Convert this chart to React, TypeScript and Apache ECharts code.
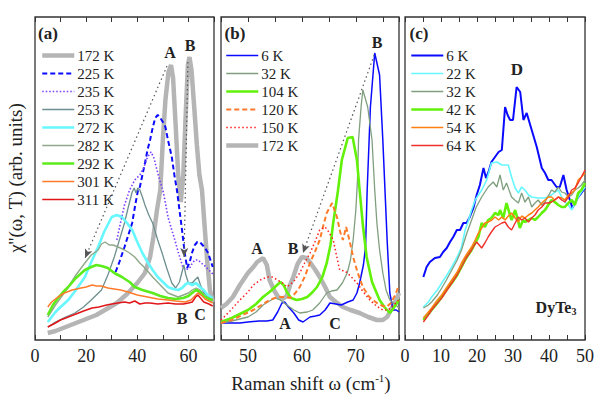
import React, { useEffect, useRef } from 'react';
import * as echarts from 'echarts';

// ---------- Panel (a) ----------
const a172 = [[5,7],[8,9],[12,13],[16,17],[20,21],[24,25],[28,31],[32,37],[36,46],[40,57],[43,67],[45,83],[46.3,103],[47.7,130],[49,150],[50,200],[51,240],[52.2,268],[53.2,275],[54,262],[55,215],[56,165],[57,138],[58,165],[59,230],[59.8,275],[60.4,283],[61.2,270],[62.2,235],[63.3,195],[64.3,165],[65.3,150],[66.3,115],[67.3,80],[68.4,50],[69.5,38]];
const a225 = [[31.5,68],[33,78],[35,93],[36.5,105],[38,117],[39.2,135],[40.3,150],[41,153],[42,165],[43,177],[44,190],[45,200],[46,212],[47,222],[48,225],[49,222],[50,218],[51,213],[52,200],[53.5,183],[54.5,165],[55.5,150],[56.5,130],[57.5,110],[58.5,88],[59.5,72],[60.5,78],[61.5,88],[62.5,95],[63.5,98],[64.5,98],[65.5,95],[66.5,92],[67.7,87],[69.5,73]];
const a235 = [[32,100],[33.5,118],[35,135],[37,150],[39,160],[41,165],[42.5,172],[44,183],[45.4,188],[46.5,182],[48,167],[49,158],[50,150],[51,137],[52,123],[53.5,110],[54.7,100],[56,88],[57.8,73],[59,70],[60.5,72],[61.5,77],[62.6,80],[63.8,80],[65,77],[66.5,74],[68,70],[69.5,66]];
const a253 = [[5,13],[8,18],[12,23],[15.6,27],[19,33],[22,40],[26,50],[28.5,65],[31,83],[33,100],[35,117],[36.5,133],[38,148],[38.8,152],[39.5,147],[40.2,152],[41,150],[42,143],[43,135],[44.5,125],[46,117],[48,100],[49.7,87],[51.5,72],[53.5,57],[55,52],[56.5,58],[57.5,68],[58.2,75],[59,65],[60,57],[61.5,57],[62.5,60],[63.7,63],[64.7,55],[66,47],[68,43],[69.5,40]];
const a272 = [[5,18],[8,28],[10,33],[13,40],[16,50],[19.5,63],[22,78],[24.7,93],[27,108],[29,118],[30,123],[32,125],[34,123],[36,117],[38,110],[40,98],[42,87],[44,78],[46,70],[48,63],[50,58],[52,53],[54,51],[56,50],[57.5,52],[59,56],[60,57],[61.5,55],[63,57],[64.5,53],[66,50],[67.5,45],[69.5,42]];
const a282 = [[5,23],[8,35],[10,42],[13,53],[16,65],[19.5,77],[22,85],[24.7,90],[26,96],[27.4,98],[29,95],[30.5,95],[32.5,93],[35,90],[37,87],[39,83],[41,77],[43,72],[46,63],[49,55],[52,47],[54,45],[56,43],[58,45],[60,47],[61.5,50],[63,52],[64.5,50],[66,45],[68,42],[69.5,40]];
const a292 = [[5,25],[7,35],[9,42],[11,48],[13,53],[16,62],[19.5,70],[22,73],[24,75],[26,74],[28.5,72],[31,67],[34,63],[37,58],[39,53],[42,50],[46,47],[49,44],[52,42],[55,41],[58,42],[60,44],[61.4,47],[63,50],[64.5,48],[66,44],[68,41],[69.5,40]];
const a301 = [[5,33],[6.5,38],[9,43],[11.5,47],[14.5,50],[18,52],[20,53],[22.3,55],[24,54],[26,54],[28.5,52],[31,51],[33.5,50],[36.4,48],[40,45],[44,43],[48,41],[52,40],[55,39],[58.7,38],[61,40],[62.5,44],[63.7,47],[65,45],[66.5,41],[68,39],[69.5,37]];
const a311 = [[5,13],[8,17],[10,20],[13,23],[16,26],[19,29],[22.3,32],[25,33],[28,35],[30,36],[32.5,37],[35,38],[37,37],[39,39],[41,36],[43,37],[45,37],[48,36],[52,37],[55,36],[58,36],[60,37],[61.5,38],[62.8,43],[63.7,45],[64.7,42],[66,38],[68,36],[69.5,34]];

// ---------- Panel (b) ----------
const b6 = [[45,17],[47,17],[48.5,17],[50,18],[52,19],[53.5,19],[54.6,20],[55.5,28],[56.3,37],[56.8,38],[57.5,33],[58.5,27],[59.4,20],[60.2,18],[61.5,23],[62.5,24],[63.3,25],[64.3,30],[65.2,37],[66.3,36],[67.3,35],[68.5,38],[69.5,40],[70.2,47],[70.7,57],[71.4,75],[71.8,93],[72.1,150],[72.7,233],[73.5,287],[74.4,265],[75,200],[75.4,150],[75.8,100],[76.3,47],[76.9,30],[77.5,30],[78,28]];
const b32 = [[45,17],[47,19],[50,23],[51.5,28],[52.8,35],[54,39],[55,42],[56,40],[57.2,35],[58.5,30],[59.6,27],[61,28],[62,30],[63.3,37],[64.6,47],[65.5,49],[66.5,50],[67.5,57],[68.4,67],[69,80],[69.5,100],[70,130],[70.3,160],[70.5,200],[71,235],[71.3,250],[72.2,233],[73,200],[73.5,150],[73.9,117],[74.4,90],[75,67],[75.6,50],[76.3,40],[77,37],[78,32]];
const b104 = [[45,18],[47,22],[48.5,26],[50,30],[51.5,36],[52.8,43],[54,48],[55,53],[56,58],[56.6,55],[57.2,48],[58,42],[59,40],[60,41],[61,43],[62,48],[62.8,53],[63.8,63],[64.6,77],[65.3,95],[65.8,117],[66.3,135],[66.7,150],[67.4,180],[68.5,202],[69.4,203],[70.2,180],[70.7,150],[71.3,115],[72,83],[73,58],[74.4,40],[75.3,33],[76.3,27],[77,32],[78,40]];
const b120 = [[45,17],[47,20],[49,25],[51,30],[52.5,35],[54,40],[55,42],[56,43],[57,43],[57.8,42],[58.8,47],[59.6,53],[60.5,63],[61.5,77],[62.4,88],[63.3,100],[64,115],[64.6,127],[65.6,137],[66.5,123],[67.1,108],[67.6,100],[68.2,113],[68.8,100],[69.5,83],[70.3,68],[71.3,53],[72.5,43],[73.9,37],[75,34],[75.7,33],[76.5,37],[77.3,45],[78,55]];
const b150 = [[45,20],[46.5,28],[48.5,40],[50,48],[51,55],[52.3,60],[53.5,63],[54.5,63],[55.5,60],[56.4,57],[57.2,53],[58.4,58],[59.6,67],[60.5,77],[61.5,87],[62.4,98],[63.3,110],[64.3,113],[65,108],[65.8,100],[66.4,85],[67,70],[68,69],[69,64],[70.2,57],[71.4,48],[72.6,40],[73.8,34],[75,30],[76,30],[77,35],[78,40]];
const b172 = [[45,32],[46,36],[47.2,43],[48.5,55],[50,67],[51,73],[51.7,78],[52.8,82],[53.5,75],[54,60],[54.8,50],[55.6,43],[56.4,41],[57.2,44],[57.8,55],[58.4,63],[59.2,76],[60,83],[60.8,82],[61.6,77],[62.5,70],[63.3,63],[64.3,53],[65.2,43],[66.3,38],[67.6,33],[69,30],[70.7,27],[72.3,23],[73.9,20],[75,20],[75.8,23],[76.8,33],[77.5,40],[78,47]];

// ---------- Panel (c) ----------
const c6 = [[5.1,63],[6,73],[6.9,78],[8.3,82],[9.7,83],[10.6,88],[11.6,92],[12.5,98],[13.4,103],[14.4,110],[15.3,110],[16.2,117],[17.1,117],[18,123],[19,132],[19.9,145],[20.8,155],[21.8,172],[22.5,162],[23.2,168],[24,178],[25,183],[26,188],[26.9,190],[27.8,233],[28.5,225],[29.2,220],[30,220],[31,253],[32,248],[32.9,220],[33.8,227],[35.2,210],[36.6,193],[38,172],[38.9,167],[39.8,160],[40.7,160],[42.1,153],[43,153],[44,165],[44.9,150],[45.8,140],[46.5,132],[47.2,137],[48.1,143],[49,147],[50,152]];
const c22 = [[5.1,33],[6.5,38],[7.4,43],[9,50],[10.2,57],[11.5,64],[13,73],[14.5,83],[15.7,93],[16.7,110],[17.5,118],[18.5,130],[19.5,140],[20.4,145],[21.3,150],[22.7,160],[24,177],[25.5,178],[26.9,175],[28,175],[28.7,175],[29.6,163],[30.6,152],[31.5,147],[32.4,153],[33.3,150],[34.3,145],[35.2,143],[37,142],[38.9,142],[40.7,145],[41.7,148],[42.6,150],[43.5,143],[44.4,138],[45.4,135],[46.3,130],[47.2,137],[48.1,143],[49,148],[50,153]];
const c32 = [[5.1,32],[6.5,35],[7.4,38],[9,45],[10.2,52],[11.5,60],[13,70],[14.5,80],[15.7,90],[17,105],[18.5,120],[19.8,133],[21.3,143],[22.2,148],[23.1,153],[24.5,158],[25.5,153],[26.4,165],[27.3,150],[28.2,157],[29.6,143],[30.5,140],[31.5,137],[32.4,147],[33.3,138],[34.3,143],[35.2,133],[36.1,137],[37,140],[38,135],[38.9,138],[40.7,150],[41.6,148],[42.6,153],[43.5,148],[44.4,147],[45.4,143],[46.3,145],[47.2,150],[48.1,152],[49,155],[50,160]];
const c42 = [[5.1,20],[6.5,26],[7.4,30],[9,37],[10.2,43],[11.5,50],[13,57],[14.5,65],[15.7,73],[17,82],[18.5,90],[19.5,97],[20.4,103],[21.3,117],[22.2,113],[23.1,120],[24,122],[25,127],[26,125],[26.4,130],[27.3,122],[28.2,137],[29,127],[29.6,120],[30.6,130],[31.5,118],[31.9,112],[32.8,120],[33.3,118],[34.3,120],[35.2,122],[36.1,120],[37,123],[38,127],[38.9,130],[39.8,135],[40.7,140],[41.6,138],[42.6,135],[43.5,133],[44.4,133],[45.4,137],[46.3,140],[47.2,135],[48.1,147],[49,150],[50,157]];
const c54 = [[5.1,22],[6.5,28],[7.4,32],[9,40],[10.2,45],[11.5,52],[13,60],[14.5,68],[15.7,77],[17,85],[18.5,93],[19.5,100],[20.4,107],[21.3,112],[22.2,117],[23.1,118],[24.1,120],[25,123],[26,120],[26.9,123],[27.8,120],[28.7,124],[29.6,127],[30.6,122],[31.5,118],[32.4,124],[33.3,122],[34.3,125],[35.2,127],[36.1,130],[37,133],[38,137],[38.9,140],[39.8,143],[40.7,143],[41.6,140],[42.6,143],[43.5,142],[44.4,140],[45.4,145],[46.3,147],[47.2,150],[48.1,160],[49,163],[50,167]];
const c64 = [[5.1,18],[6.5,25],[7.4,30],[9,37],[10.2,42],[11.5,49],[13,57],[14.5,65],[15.7,73],[17,82],[18.5,90],[19.3,95],[19.9,98],[20.6,95],[21.3,92],[22.2,97],[23.1,103],[24,108],[25,113],[26,115],[26.9,117],[27.8,118],[28.7,113],[29.6,110],[30.6,117],[31.5,123],[32.4,120],[33.3,122],[34.3,118],[35.2,122],[36.1,125],[37,130],[38,133],[38.9,137],[39.8,137],[40.7,138],[41.6,140],[42.6,143],[43.5,140],[44.4,138],[45.4,143],[46.3,150],[47.2,152],[48.1,157],[49,163],[50,170]];

// Guide (dotted arrow) lines, in data coordinates [from, to]
const guideA = [[[51.6, 274], [19.6, 82]], [[59.8, 278], [58.3, 83]]];
const guideB = [[[73.4, 285], [60.2, 87]]];

const xTicksA = { min: 0, max: 70, interval: 10, labelStep: 20 };
const xTicksB = { min: 45, max: 78, interval: 5, labelStep: 10 };
const xTicksC = { min: 0, max: 50, interval: 5, labelStep: 10 };
const yRange = { min: 0, max: 323 };

const FONT = 'Liberation Serif, Times New Roman, serif';
const INK = '#222';

function line(panel: string, name: string, grid: number, data: number[][], color: string, width: number, type: any = 'solid', extra: any = {}) {
  return {
    type: 'line',
    name: panel + '|' + name,
    xAxisIndex: grid,
    yAxisIndex: grid,
    data,
    symbol: 'none',
    showSymbol: false,
    smooth: false,
    clip: true,
    color,
    lineStyle: { color, width, type },
    itemStyle: { color },
    emphasis: { disabled: true },
    ...extra,
  };
}

function guide(pairs: number[][][]) {
  return {
    markLine: {
      silent: true,
      symbol: ['none', 'arrow'],
      symbolSize: [6, 9],
      label: { show: false },
      lineStyle: { color: '#555', width: 1.2, type: [1.5, 3] },
      emphasis: { disabled: true },
      data: pairs.map((p) => [{ coord: p[0] }, { coord: p[1] }]),
    },
  };
}

export default function App() {
  const ref = useRef<HTMLDivElement>(null);
  useEffect(() => {
    if (!ref.current) return;
    const chart = echarts.init(ref.current, null, { renderer: 'svg' });
    const grids = [
      { left: 35, top: 17, width: 179, height: 323 },
      { left: 221, top: 17, width: 178, height: 323 },
      { left: 405, top: 17, width: 180, height: 323 },
    ].map((g) => ({ ...g, show: true, borderColor: '#333', borderWidth: 1.3, backgroundColor: 'transparent' }));
    const ticks = [xTicksA, xTicksB, xTicksC];
    const xAxes: any[] = [];
    ticks.forEach((t, i) => {
      xAxes.push({
        type: 'value', gridIndex: i, position: 'bottom', min: t.min, max: t.max, interval: t.interval,
        axisLine: { show: false }, splitLine: { show: false },
        axisTick: { show: true, inside: true, length: 5, lineStyle: { color: '#333', width: 1 } },
        axisLabel: {
          show: true, margin: 7, color: INK, fontFamily: FONT, fontSize: 18,
          formatter: (v: number) => (Math.abs(v % t.labelStep) < 1e-6 ? String(v) : ''),
        },
      });
    });
    ticks.forEach((t, i) => {
      xAxes.push({
        type: 'value', gridIndex: i, position: 'top', min: t.min, max: t.max, interval: t.interval,
        axisLine: { show: false }, splitLine: { show: false },
        axisTick: { show: true, inside: true, length: 5, lineStyle: { color: '#333', width: 1 } },
        axisLabel: { show: false },
      });
    });
    const yAxes = [0, 1, 2].map((i) => ({ type: 'value', gridIndex: i, min: yRange.min, max: yRange.max, show: false }));

    const series: any[] = [
      line('a', '172 K', 0, a172, '#b5b5b5', 4.5, 'solid', guide(guideA)),
      line('a', '225 K', 0, a225, '#0a0aff', 2, [5, 3]),
      line('a', '235 K', 0, a235, '#7a3cff', 1.6, [1.5, 2]),
      line('a', '253 K', 0, a253, '#6e8f8f', 1.3),
      line('a', '272 K', 0, a272, '#66f7ff', 2.6),
      line('a', '282 K', 0, a282, '#8fa88a', 1.4),
      line('a', '292 K', 0, a292, '#5cec1c', 2.6),
      line('a', '301 K', 0, a301, '#ff7b2a', 1.5),
      line('a', '311 K', 0, a311, '#e0161a', 1.5),

      line('b', '6 K', 1, b6, '#0a0aff', 1.5),
      line('b', '32 K', 1, b32, '#7f9f7f', 1.3),
      line('b', '104 K', 1, b104, '#62f20a', 2.6),
      line('b', '120 K', 1, b120, '#ff7b2a', 2, [5, 3]),
      line('b', '150 K', 1, b150, '#ff2020', 1.5, [1.5, 2.5]),
      line('b', '172 K', 1, b172, '#b5b5b5', 4.5, 'solid', guide(guideB)),

      line('c', '6 K', 2, c6, '#0a0aff', 2),
      line('c', '22 K', 2, c22, '#66f7ff', 1.6),
      line('c', '32 K', 2, c32, '#7f9f7f', 1.3),
      line('c', '42 K', 2, c42, '#62f20a', 2.6),
      line('c', '54 K', 2, c54, '#ff7f10', 1.5),
      line('c', '64 K', 2, c64, '#f0302a', 1.4),
    ];
    // draw the thick grey 172 K curve beneath the others in panel (b)
    const b172idx = series.findIndex((s) => s.name === 'b|172 K');
    series[b172idx].z = 1;

    const legendItems = (p: string) =>
      series.filter((s) => s.name.startsWith(p + '|')).map((s) => ({
        name: s.name,
        lineStyle: { color: s.lineStyle.color, width: s.lineStyle.width, type: s.lineStyle.type, opacity: 1 },
        itemStyle: { opacity: 0 },
      }));

    const legendBase = {
      orient: 'vertical', padding: 0, itemWidth: 32, itemHeight: 14, itemGap: 3,
      selectedMode: false,
      formatter: (n: string) => n.split('|')[1],
      textStyle: { fontFamily: FONT, fontSize: 15, color: INK, padding: [0, 0, 0, -2] },
    };
    const legends = [
      { ...legendBase, left: 40, top: 48, data: legendItems('a') },
      { ...legendBase, left: 224, top: 48, data: legendItems('b') },
      { ...legendBase, left: 410, top: 48, data: legendItems('c') },
    ];

    const lbl = (text: string, x: number, y: number, size = 16, bold = true) => ({
      type: 'text', x, y, silent: true,
      style: { text, fill: INK, fontFamily: FONT, fontSize: size, fontWeight: bold ? 'bold' : 'normal', textAlign: 'center', textVerticalAlign: 'middle' },
    });

    const graphic = [
      lbl('(a)', 48, 33, 17),
      lbl('(b)', 235, 33, 17),
      lbl('(c)', 419, 33, 17),
      lbl('A', 170, 52),
      lbl('B', 190, 45),
      lbl('B', 182, 318),
      lbl('C', 200, 314),
      lbl('B', 377, 42),
      lbl('A', 257, 248),
      lbl('B', 293, 248),
      lbl('A', 285, 323),
      lbl('C', 335, 323),
      lbl('D', 517, 69, 17),
      {
        type: 'text', x: 556, y: 307, silent: true,
        style: {
          text: '{b|DyTe}{s|3}', textAlign: 'center', textVerticalAlign: 'middle',
          rich: {
            b: { fontFamily: FONT, fontSize: 16, fontWeight: 'bold', fill: INK, verticalAlign: 'middle', lineHeight: 18 },
            s: { fontFamily: FONT, fontSize: 10, fontWeight: 'bold', fill: INK, verticalAlign: 'bottom', lineHeight: 12, padding: [8, 0, 0, 0] },
          },
        },
      },
      {
        type: 'text', x: 311, y: 383, silent: true,
        style: {
          text: 'Raman shift ω (cm{sup|-1})', textAlign: 'center', textVerticalAlign: 'middle',
          fontFamily: FONT, fontSize: 19, fill: INK,
          rich: { sup: { fontFamily: FONT, fontSize: 11, fill: INK, verticalAlign: 'top', lineHeight: 22, padding: [0, 0, 10, 0] } },
        },
      },
      {
        type: 'text', x: 15, y: 178, rotation: Math.PI / 2, silent: true,
        style: { text: "χ''(ω, T) (arb. units)", textAlign: 'center', textVerticalAlign: 'middle', fontFamily: FONT, fontSize: 19, fill: INK },
      },
    ];

    chart.setOption({
      animation: false,
      backgroundColor: '#ffffff',
      grid: grids,
      xAxis: xAxes,
      yAxis: yAxes,
      legend: legends,
      series,
      graphic,
    });
    return () => chart.dispose();
  }, []);
  return <div ref={ref} style={{ position: 'fixed', left: 0, top: 0, width: 600, height: 400 }} />;
}
